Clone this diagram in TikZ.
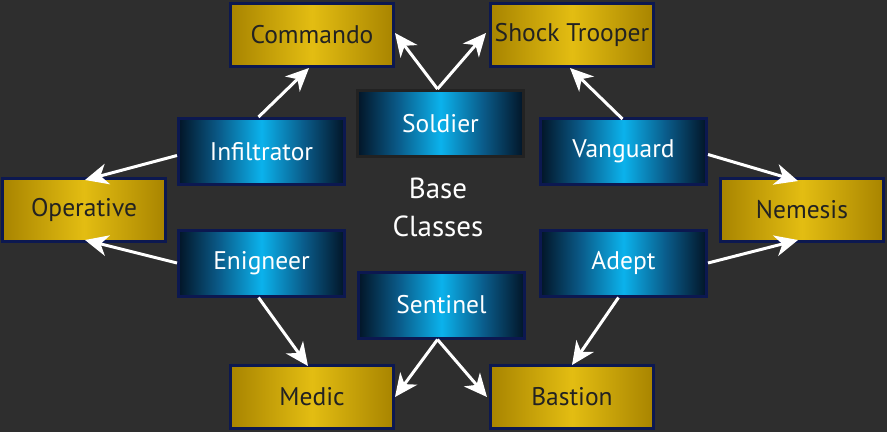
\documentclass[tikz,border=0pt]{standalone}
\usepackage{fontspec}
\setmainfont{PT Sans}
\usepackage{tikz}
\usepackage{xcolor}
\usetikzlibrary{arrows.meta}

\definecolor{bgdark}{HTML}{2E2E2E}
\definecolor{golddark}{HTML}{A88400}
\definecolor{goldlight}{HTML}{E3BD12}
\definecolor{bluedark}{HTML}{021527}
\definecolor{bluemid}{HTML}{0A5A88}
\definecolor{bluelight}{HTML}{0BB2EC}
\definecolor{navyline}{HTML}{0C1850}
\definecolor{grayline}{HTML}{222222}
\definecolor{inkdark}{HTML}{222222}

\pgfdeclarehorizontalshading{goldshade}{100bp}{color(0bp)=(golddark); color(25bp)=(golddark); color(50bp)=(goldlight); color(75bp)=(golddark); color(100bp)=(golddark)}
\pgfdeclarehorizontalshading{blueshade}{100bp}{color(0bp)=(bluedark); color(25bp)=(bluedark); color(37bp)=(bluemid); color(50bp)=(bluelight); color(63bp)=(bluemid); color(75bp)=(bluedark); color(100bp)=(bluedark)}

\begin{document}
\begin{tikzpicture}[x=1pt, y=-1pt,
    goldbox/.style={rectangle, draw=navyline, line width=3pt, shading=goldshade, minimum width=163pt, minimum height=63pt, inner sep=0pt, text=inkdark, font=\fontsize{25.5}{30}\selectfont},
    bluebox/.style={rectangle, draw=navyline, line width=3pt, shading=blueshade, minimum width=166pt, minimum height=66pt, inner sep=0pt, text=white, font=\fontsize{25.5}{30}\selectfont},
    link/.style={draw=white, line width=3pt, -{Stealth[length=23pt, width=21pt, inset=7pt]}}]

    % Background
    \fill[bgdark] (0,0) rectangle (887,432);

    % Base classes
    \node[bluebox, draw=grayline] (soldier) at (440.5,123.5) {Soldier};
    \node[bluebox] (infil) at (261.5,151.5) {Infiltrator};
    \node[bluebox] (vanguard) at (623.5,151.5) {Vanguard};
    \node[bluebox] (engineer) at (261.5,263) {Enigneer};
    \node[bluebox] (adept) at (623.5,263) {Adept};
    \node[bluebox] (sentinel) at (441.5,305) {Sentinel};

    % Advanced classes
    \node[goldbox] (commando) at (312,35) {Commando};
    \node[goldbox] (shock) at (572,35) {Shock Trooper};
    \node[goldbox] (operative) at (84,210) {Operative};
    \node[goldbox] (nemesis) at (802,210) {Nemesis};
    \node[goldbox] (medic) at (312,397) {Medic};
    \node[goldbox] (bastion) at (572,397) {Bastion};

    % Title in the middle
    \node[text=white, font=\fontsize{29}{38}\selectfont, align=center] (title) at (438,207) {Base\\Classes};

    % Arrows
    \draw[link] ([xshift=-3pt]soldier.north) -- ([yshift=2pt]commando.east);
    \draw[link] ([xshift=-3pt]soldier.north) -- ([xshift=-3pt,yshift=2pt]shock.west);
    \draw[link] ([xshift=-3pt]infil.north) -- ([xshift=-3pt]commando.south);
    \draw[link] ([yshift=-4pt]infil.west) -- ([xshift=1pt,yshift=-3pt]operative.north);
    \draw[link] (engineer.west) -- ([xshift=1pt,yshift=3pt]operative.south);
    \draw[link] ([xshift=-3pt]engineer.south) -- ([xshift=-4pt,yshift=-2pt]medic.north);
    \draw[link] ([xshift=-4pt]sentinel.south) -- (medic.east);
    \draw[link] ([xshift=-4pt]sentinel.south) -- ([xshift=-2pt]bastion.west);
    \draw[link] ([xshift=-5pt]adept.south) -- ([yshift=-1pt]bastion.north);
    \draw[link] (adept.east) -- ([xshift=-4pt,yshift=3pt]nemesis.south);
    \draw[link] ([yshift=-3pt]vanguard.east) -- ([xshift=-4pt,yshift=-4pt]nemesis.north);
    \draw[link] ([xshift=-1pt,yshift=-2pt]vanguard.north) -- ([xshift=-2pt]shock.south);
\end{tikzpicture}
\end{document}
